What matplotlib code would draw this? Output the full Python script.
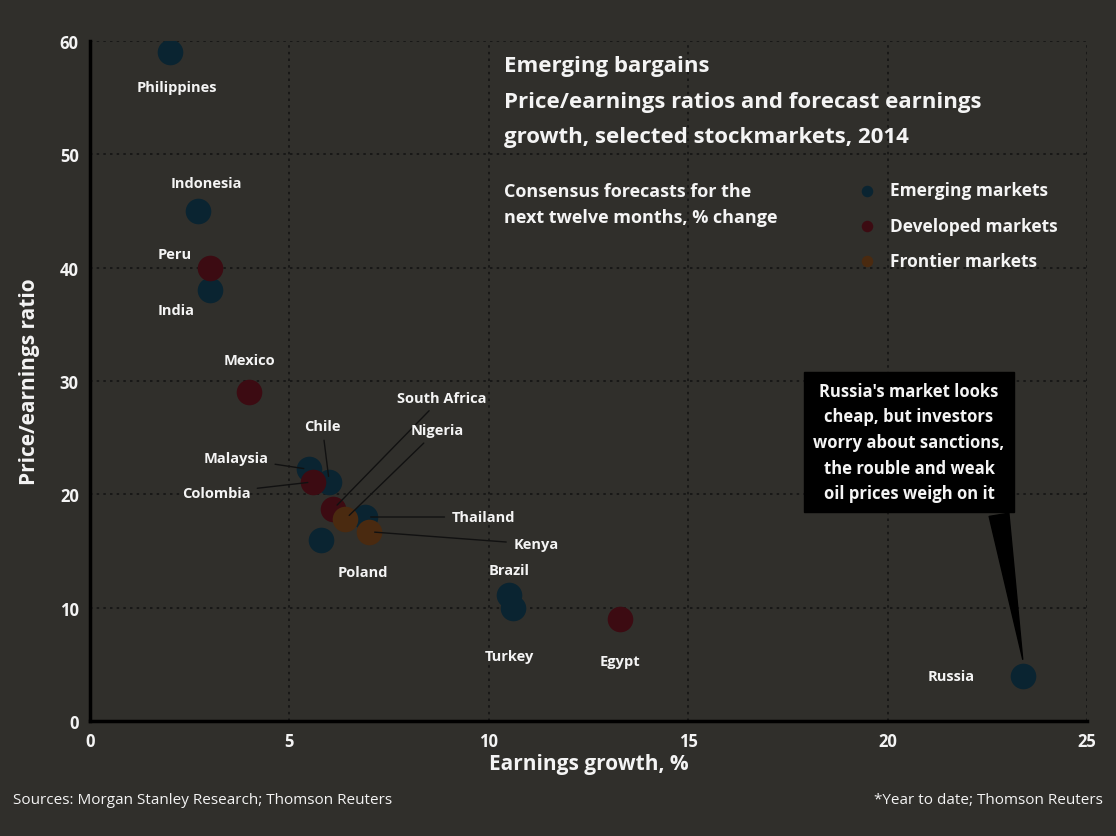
import matplotlib.pyplot as plt

# data
countries = ["Philippines", "Indonesia", "Peru", "India", "Mexico", "Malaysia",
             "Colombia", "Chile", "South Africa", "Nigeria", "Thailand", "Kenya",
             "Poland", "Brazil", "Turkey", "Egypt", "Russia"]
growth = [2.0, 2.7, 3.0, 3.0, 4.0, 5.5, 5.6, 6.0, 6.1, 6.4, 6.9, 7.0, 5.8, 10.5, 10.6, 13.3, 23.4]
pe_ratio = [59, 45, 40, 38, 29, 22.2, 21.1, 21.1, 18.7, 17.8, 18.0, 16.7, 16.0, 11.1, 10.0, 9.0, 4.0]
group = ["em", "em", "dev", "em", "dev", "em", "dev", "em", "dev", "fr", "em", "fr",
         "em", "em", "em", "dev", "em"]

group_names = {"em": "Emerging markets", "dev": "Developed markets", "fr": "Frontier markets"}
colours = {"em": "#0a2431", "dev": "#3c0b12", "fr": "#4a2a10"}

# label placement (offsets in points) and leader-line flag
label_pos = [(5, -25), (6, 20), (-25, 10), (-24, -14), (0, 23), (-53, 8),
             (-70, -8), (-5, 40), (78, 80), (66, 64), (85, 0), (120, -9),
             (30, -23), (0, 18), (-2, -35), (0, -30), (-52, 0)]
leader = [False, False, False, False, False, True, True, True, True, True, True, True,
          False, False, False, False, False]

bg = "#302f2b"
txt = "#f4f4f4"
plt.rcParams["font.family"] = ["Open Sans", "DejaVu Sans"]

fig = plt.figure(figsize=(11.16, 8.37), dpi=100, facecolor=bg)
ax = fig.add_axes([0.0806, 0.1374, 0.8934, 0.8124])
ax.set_facecolor(bg)

for g in ["em", "dev", "fr"]:
    xs = [x for x, gg in zip(growth, group) if gg == g]
    ys = [y for y, gg in zip(pe_ratio, group) if gg == g]
    ax.scatter(xs, ys, s=340, color=colours[g], zorder=3, label=group_names[g], linewidths=0)

for i, name in enumerate(countries):
    dx, dy = label_pos[i]
    if leader[i]:
        ax.annotate(name, (growth[i], pe_ratio[i]), xytext=(dx, dy), textcoords="offset points",
                    ha="center", va="center", fontsize=10.5, fontweight="bold", color=txt,
                    arrowprops=dict(arrowstyle="-", color="#111111", lw=1, shrinkA=3, shrinkB=4),
                    zorder=4)
    else:
        ax.annotate(name, (growth[i], pe_ratio[i]), xytext=(dx, dy), textcoords="offset points",
                    ha="center", va="center", fontsize=10.5, fontweight="bold", color=txt, zorder=4)

# callout box for the far-right point
ax.annotate("Russia's market looks\ncheap, but investors\nworry about sanctions,\nthe rouble and weak\noil prices weigh on it",
            (growth[16], pe_ratio[16] + 1.2), xytext=(909, 394), textcoords="figure pixels",
            ha="center", va="center", fontsize=12, fontweight="bold", color=txt, linespacing=1.55,
            bbox=dict(boxstyle="square,pad=0.55", fc="black", ec="black"),
            arrowprops=dict(arrowstyle="wedge,tail_width=1.2,shrink_factor=0.5", fc="black", ec="black",
                            relpos=(0.96, 0.0)),
            zorder=5)

ax.set_xlim(0, 25)
ax.set_ylim(0, 60)
ax.set_xticks(range(0, 26, 5))
ax.set_yticks(range(0, 61, 10))
ax.grid(True, linestyle=(0, (1.5, 2.5)), color="#141414", lw=1.2)
ax.set_axisbelow(True)
for s in ["top", "right"]:
    ax.spines[s].set_visible(False)
for s in ["left", "bottom"]:
    ax.spines[s].set_color("black")
    ax.spines[s].set_linewidth(2.5)
ax.tick_params(length=0, colors=txt, labelsize=12, pad=8)
for lab in ax.get_xticklabels() + ax.get_yticklabels():
    lab.set_fontweight("bold")

ax.set_xlabel("Earnings growth, %", fontsize=15, fontweight="bold", color=txt, labelpad=2)
ax.set_ylabel("Price/earnings ratio", fontsize=15, fontweight="bold", color=txt, labelpad=14)

# title block
fig.text(0.452, 0.92, "Emerging bargains", fontsize=16, fontweight="bold", color=txt, va="center")
fig.text(0.452, 0.878, "Price/earnings ratios and forecast earnings", fontsize=16, fontweight="bold",
         color=txt, va="center")
fig.text(0.452, 0.836, "growth, selected stockmarkets, 2014", fontsize=16, fontweight="bold",
         color=txt, va="center")
fig.text(0.452, 0.755, "Consensus forecasts for the\nnext twelve months, % change", fontsize=13,
         fontweight="bold", color=txt, va="center", linespacing=1.55)

leg = ax.legend(loc="upper left", bbox_to_anchor=(0.755, 0.804), frameon=False, fontsize=12.5,
                labelcolor=txt, markerscale=0.45, handletextpad=0.3, labelspacing=1.0,
                borderaxespad=0)
for t in leg.get_texts():
    t.set_fontweight("bold")

fig.text(0.012, 0.04, "Sources: Morgan Stanley Research; Thomson Reuters", fontsize=11, color=txt)
fig.text(0.988, 0.04, "*Year to date; Thomson Reuters", fontsize=11, color=txt, ha="right")

fig.savefig("out.png", dpi=100, facecolor=bg)
